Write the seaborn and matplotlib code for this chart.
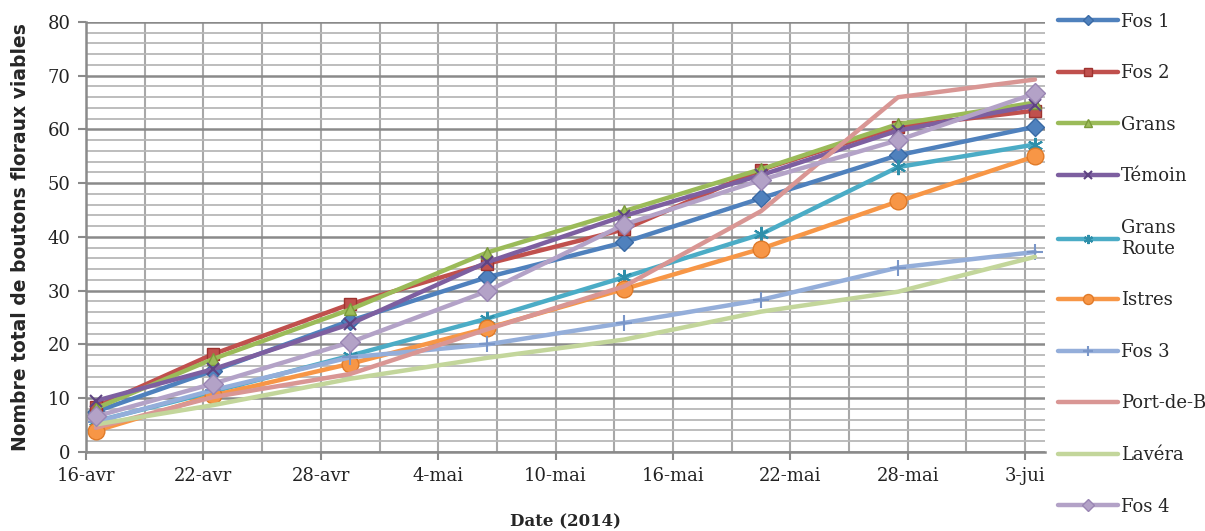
import pandas as pd
import matplotlib
matplotlib.use('Agg')
import matplotlib.pyplot as plt
import matplotlib.dates as mdates
from matplotlib.ticker import FixedLocator, MultipleLocator
import seaborn as sns

# Sampling dates (2014)
dates = pd.to_datetime(['2014-04-16', '2014-04-22', '2014-04-29', '2014-05-06',
                        '2014-05-13', '2014-05-20', '2014-05-27', '2014-06-03'])

# Viable flower buds per site
fos1 = [7.5, 15.1, 24.4, 32.5, 39.0, 47.2, 55.2, 60.5]
fos2 = [8.4, 18.2, 27.5, 35.0, 41.4, 52.5, 60.5, 63.5]
grans = [8.1, 17.3, 26.5, 37.1, 44.8, 52.6, 61.0, 65.0]
temoin = [9.5, 15.4, 23.8, 35.3, 43.9, 51.5, 59.8, 64.5]
grans_route = [5.7, 11.2, 17.9, 24.8, 32.5, 40.5, 53.0, 57.2]
istres = [3.9, 10.5, 16.4, 23.0, 30.3, 37.8, 46.6, 55.0]
fos3 = [5.6, 11.5, 17.6, 20.0, 24.0, 28.3, 34.3, 37.2]
port_de_b = [4.5, 10.2, 14.5, 22.8, 30.8, 44.8, 66.0, 69.3]
lavera = [5.1, 8.7, 13.6, 17.5, 20.9, 26.1, 29.8, 36.3]
fos4 = [6.6, 12.7, 20.4, 29.9, 42.3, 50.6, 58.0, 66.7]

series = [
    ('Fos 1', fos1, '#4F81BD', '#3A6AA5', 'D', 9),
    ('Fos 2', fos2, '#C0504D', '#9E3330', 's', 9),
    ('Grans', grans, '#9BBB59', '#7A9A3A', '^', 9),
    ('Témoin', temoin, '#7D5FA0', '#5E4382', 'x', 9),
    ('Grans\nRoute', grans_route, '#4BACC6', '#2E8FAA', (6, 2, 0), 11),
    ('Istres', istres, '#F79646', '#E07A28', 'o', 12),
    ('Fos 3', fos3, '#94AEDA', '#7A96C8', '+', 11),
    ('Port-de-B', port_de_b, '#D99694', '#D99694', None, 0),
    ('Lavéra', lavera, '#C3D69B', '#C3D69B', None, 0),
    ('Fos 4', fos4, '#B3A2C7', '#9985B3', 'D', 10),
]

mois = {4: 'avr', 5: 'mai', 6: 'jui'}

sns.set_theme(style='white')
plt.rcParams['font.family'] = ['DejaVu Serif']

fig, ax = plt.subplots(figsize=(12.05, 5.31), dpi=100)
fig.subplots_adjust(left=0.0714, right=0.867, bottom=0.149, top=0.9586)

# Excel date axis puts points at the middle of the day
xdates = dates + pd.Timedelta(hours=12)

for name, vals, col, edge, mk, ms in series:
    sns.lineplot(x=xdates, y=vals, ax=ax, color=col, linewidth=3.2,
                 marker=mk, markersize=ms, markeredgecolor=edge,
                 markerfacecolor=col, markeredgewidth=1.5 if mk in ('x', '+', (6, 2, 0)) else 1.0,
                 label=name, legend=False)

# axes limits and grid
x0 = pd.Timestamp('2014-04-16')
x1 = pd.Timestamp('2014-06-04')
ax.set_xlim(x0, x1)
ax.set_ylim(0, 80)

major_days = pd.date_range('2014-04-16', '2014-06-03', freq='6D')
minor_days = pd.date_range('2014-04-16', '2014-06-04', freq='3D')
ax.xaxis.set_major_locator(FixedLocator(mdates.date2num(major_days)))
ax.xaxis.set_minor_locator(FixedLocator(mdates.date2num(minor_days)))
ax.set_xticklabels([f'{d.day}-{mois[d.month]}' for d in major_days])
ax.yaxis.set_major_locator(MultipleLocator(10))
ax.yaxis.set_minor_locator(MultipleLocator(2))

ax.grid(which='major', axis='y', color='#8a8a8a', linewidth=1.8)
ax.grid(which='minor', axis='y', color='#b8b8b8', linewidth=1.3)
ax.grid(which='both', axis='x', color='#a8a8a8', linewidth=1.5)
ax.set_axisbelow(True)

for s in ['top', 'right']:
    ax.spines[s].set_visible(False)
for s in ['left', 'bottom']:
    ax.spines[s].set_color('#8a8a8a')
    ax.spines[s].set_linewidth(1.8)

ax.tick_params(axis='both', which='major', direction='out', length=6, width=1.5,
               color='#8a8a8a', labelsize=13, labelcolor='#222222', pad=5)
ax.tick_params(axis='both', which='minor', length=0)
ax.tick_params(axis='both', which='major', left=True, bottom=True)

ax.set_xlabel('Date (2014)', fontsize=12, fontweight='bold', labelpad=20)
ax.set_ylabel('Nombre total de boutons floraux viables', fontsize=13.5,
              fontweight='bold', family='DejaVu Sans', labelpad=13)

handles, labels = ax.get_legend_handles_labels()
fig.legend(handles, labels, loc='upper left', bbox_to_anchor=(0.872, 0.99),
           frameon=False, fontsize=13, handlelength=3.3, handletextpad=0.2,
           labelspacing=1.86, borderaxespad=0, markerscale=0.6)

fig.savefig('out.png', dpi=100)
